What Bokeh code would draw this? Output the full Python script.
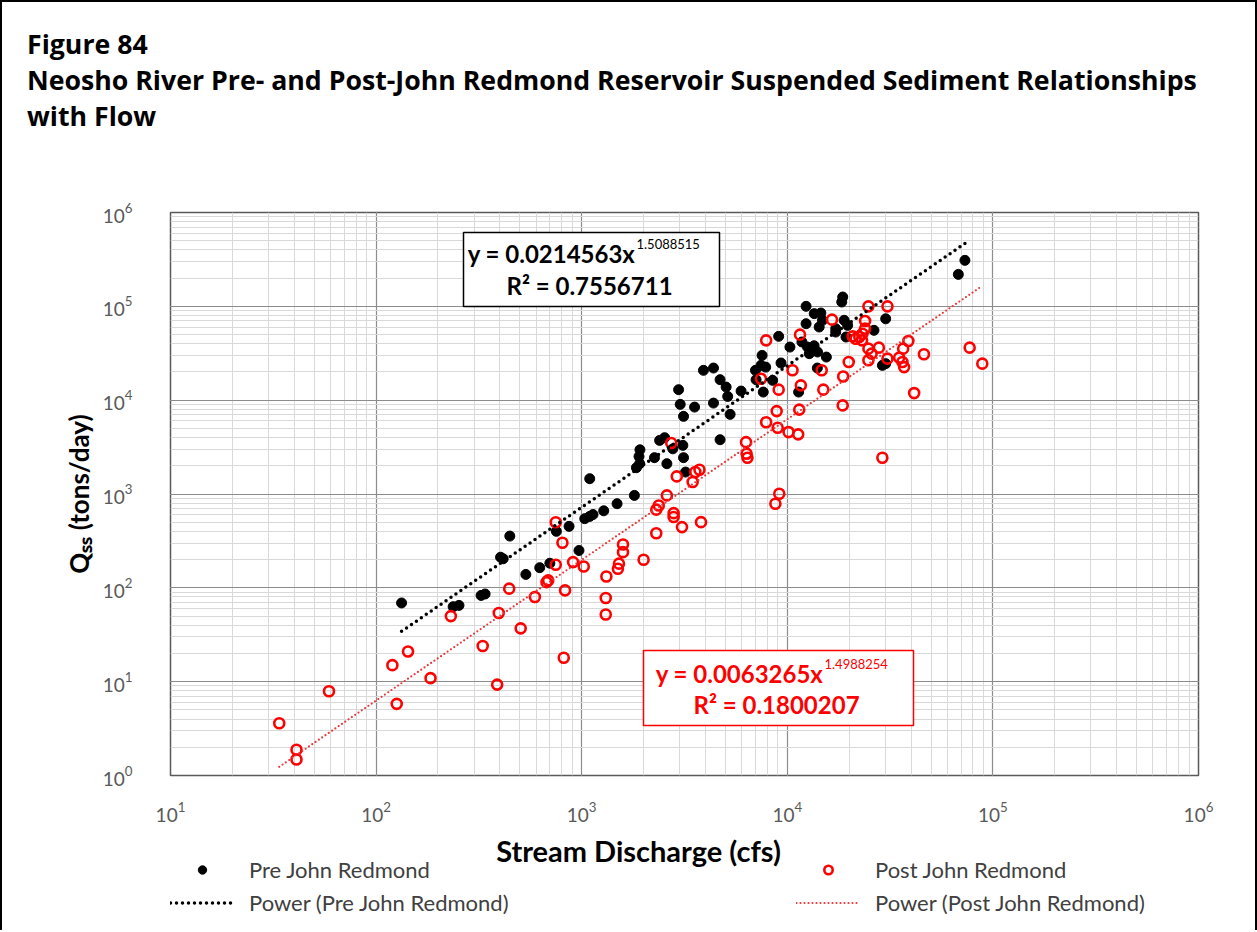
import numpy as np
from bokeh.plotting import figure
from bokeh.layouts import column
from bokeh.models import Label, BoxAnnotation, Legend, LegendItem, Div
from bokeh.embed import file_html
from bokeh.resources import INLINE

# ---------------- data ----------------
pre_q = [133, 237, 253, 324, 339, 403, 415, 447, 535, 625, 700, 753, 868, 970, 1035,
         1094, 1094, 1135, 1280, 1486, 1804, 1845, 1914, 1900, 1920, 2259, 2393, 2531,
         2596, 2774, 3104, 3128, 3200, 2960, 3014, 3128, 3540, 3910, 4375, 4375, 4710,
         4710, 5040, 5130, 5270, 5960, 7000, 7450, 7540, 7050, 7640, 7850, 8490, 9080,
         9320, 10300, 11350, 11780, 12540, 12790, 13500, 14030, 73100, 67900, 18600,
         18400, 12340, 13520, 14560, 14830, 14290, 12340, 15490, 18900, 19650, 17200,
         17200, 19300, 26400, 30100, 29000, 30100, 14000]
pre_qss = [69, 63, 65, 83, 86, 212, 204, 356, 139, 164, 183, 400, 452, 250, 546,
           1456, 577, 604, 662, 788, 966, 1906, 2104, 2512, 2960, 2438, 3727, 3980,
           2104, 3030, 3300, 2438, 1713, 12940, 9020, 6720, 8440, 20800, 22000, 9310, 3790,
           16540, 13800, 10960, 7060, 12500, 20800, 23500, 30000, 16540, 12200, 22500, 16260, 47900,
           24900, 36800, 12200, 41700, 36800, 31300, 38000, 32600, 309000, 219000, 125700,
           111200, 100000, 83600, 84900, 71000, 60200, 65300, 28800, 71000, 62700, 57800,
           53200, 47100, 55500, 73600, 23500, 24500, 22000]

post_q = [748, 806, 748, 908, 1023, 444, 674, 687, 592, 830, 231, 395, 505, 330, 818,
          388, 143, 120, 184, 126, 59, 33.8, 41, 41,
          7890, 7450, 10600, 11640, 9080, 8880, 11430, 7890, 8980, 10140, 11300, 6300,
          6340, 6400, 9140, 8750, 2725, 2900, 3465, 3740, 3570, 2596, 2371, 2305, 2800,
          2800, 3075, 3805, 2305, 1588, 1588, 2000, 1518, 1500, 1318, 1309, 1309,
          24800, 30700, 16500, 23900, 23900, 20800, 22400, 23200, 21500, 23100, 11530,
          24800, 25700, 27900, 24800, 30700, 35000, 36300, 37000, 36600, 38800, 46200,
          41400, 77100, 88800, 29000, 19900, 18700, 18600, 14700, 14970]
post_qss = [500, 302, 176, 188, 169, 98, 115, 120, 80, 94, 50, 54, 37, 24, 18,
            9.3, 21, 15, 10.9, 5.8, 7.9, 3.6, 1.88, 1.48,
            43400, 16900, 20800, 14380, 12940, 7650, 7920, 5820, 5090, 4570, 4320, 3570,
            2690, 2430, 1006, 788, 3490, 1540, 1340, 1815, 1713, 966, 755, 681, 625,
            568, 444, 501, 381, 290, 240, 199, 181, 160, 132, 78, 52,
            100000, 100000, 72100, 69700, 57800, 47900, 47100, 51100, 45200, 43400, 49900,
            35400, 31300, 36300, 26600, 27700, 28400, 25500, 22500, 35400, 42700, 30800,
            11900, 36300, 24500, 2430, 25500, 17900, 8800, 20800, 12940]

pre_coef, pre_exp, pre_r2 = 0.0214563, 1.5088515, 0.7556711
post_coef, post_exp, post_r2 = 0.0063265, 1.4988254, 0.1800207

series_names = ["Pre John Redmond", "Post John Redmond"]
title_lines = ["Figure 84",
               "Neosho River Pre- and Post-John Redmond Reservoir Suspended Sediment Relationships",
               "with Flow"]
x_title = "Stream Discharge (cfs)"
y_title = "Q\u209b\u209b (tons/day)"

# ---------------- page layout (page pixels) ----------------
BORDER = 2
W = 1253
TOP_H, MAIN_H, BOT_H = 150, 680, 98             # title block, plot canvas, legend canvas
FX0, FX1, FY0, FY1 = 170, 1198, 212, 775        # plot frame edges on the page
MAIN_TOP = BORDER + TOP_H
BOT_TOP = MAIN_TOP + MAIN_H

# ---------------- title block ----------------
title_html = "<br>".join(title_lines)
top = Div(text=title_html, width=W, height=TOP_H, margin=0,
          styles={"font-family": "'Open Sans', sans-serif", "font-weight": "bold",
                  "font-size": "26.7px", "line-height": "36px", "color": "black",
                  "padding-left": f"{27 - BORDER}px", "padding-top": "24px",
                  "white-space": "nowrap", "box-sizing": "border-box"})

# ---------------- main plot ----------------
p = figure(width=W, height=MAIN_H, x_axis_type="log", y_axis_type="log",
           x_range=(10, 1e6), y_range=(1, 1e6),
           output_backend="svg", toolbar_location=None,
           min_border_left=FX0 - BORDER, min_border_right=W + BORDER - FX1,
           min_border_top=FY0 - MAIN_TOP, min_border_bottom=BOT_TOP - FY1)
p.background_fill_color = "white"
p.border_fill_color = "white"
p.outline_line_color = "#595959"
p.outline_line_width = 1.5

def dx(px):
    return 10 ** (1 + 5 * (px - FX0) / (FX1 - FX0))
def dy(py):
    return 10 ** (6 * (FY1 - py) / (FY1 - FY0))

for g in (p.xgrid, p.ygrid):
    g.grid_line_color = "#8c8c8c"
    g.grid_line_width = 1.2
    g.minor_grid_line_color = "#d9d9d9"
    g.minor_grid_line_width = 1

for ax in (p.xaxis, p.yaxis):
    ax.axis_line_color = None
    ax.major_tick_line_color = None
    ax.minor_tick_line_color = None
    ax.major_label_text_font = "Lato"
    ax.major_label_text_font_size = "19px"
    ax.major_label_text_color = "#595959"
p.xaxis.major_label_standoff = 20
p.yaxis.major_label_standoff = 32
p.yaxis.axis_label = y_title
p.yaxis.axis_label_text_font = "Lato"
p.yaxis.axis_label_text_font_style = "bold"
p.yaxis.axis_label_text_font_size = "26px"
p.yaxis.axis_label_text_color = "black"
p.yaxis.axis_label_standoff = 5

r_pre = p.scatter(pre_q, pre_qss, size=10, marker="circle", fill_color="black", line_color="black")
r_post = p.scatter(post_q, post_qss, size=10, marker="circle", fill_color=None,
                   line_color="#ff0000", line_width=2.6)

pre_line = dict(line_color="black", line_width=3.5, line_dash="0 6", line_cap="round")
post_line = dict(line_color="#e8383b", line_width=2.2, line_dash="0 4", line_cap="round")
xf_pre = np.geomspace(min(pre_q), max(pre_q), 40)
xf_post = np.geomspace(min(post_q), max(post_q), 40)
p.line(xf_pre, pre_coef * xf_pre ** pre_exp, **pre_line)
p.line(xf_post, post_coef * xf_post ** post_exp, **post_line)

# equation boxes
p.add_layout(BoxAnnotation(left=dx(463), right=dx(719), top=dy(232), bottom=dy(306),
                           fill_color="white", fill_alpha=1, line_color="black", line_width=1.5, line_alpha=1))
p.add_layout(BoxAnnotation(left=dx(643), right=dx(913), top=dy(650), bottom=dy(725),
                           fill_color="white", fill_alpha=1, line_color="#ff0000", line_width=1.5, line_alpha=1))

def eq_labels(x_end, y1, y2, xc2, coef, expo, r2, color):
    common = dict(text_font="Lato", text_font_style="bold", text_color=color, text_baseline="middle")
    p.add_layout(Label(x=dx(x_end), y=dy(y1), text=f"y = {coef:.7f}x", text_align="right",
                       text_font_size="24px", **common))
    p.add_layout(Label(x=dx(x_end + 1), y=dy(y1 - 10), text=f"{expo:.7f}", text_align="left",
                       text_font_size="13px", text_font="Lato", text_color=color, text_baseline="middle"))
    p.add_layout(Label(x=dx(xc2), y=dy(y2), text=f"R\u00b2 = {r2:.7f}", text_align="center",
                       text_font_size="24px", **common))

eq_labels(635, 253, 285, 589, pre_coef, pre_exp, pre_r2, "#000000")
eq_labels(823, 673, 704, 776, post_coef, post_exp, post_r2, "#ff0000")

# ---------------- bottom canvas: x title + legend ----------------
# its frame is aligned with the plot frame (page x 170..1198), so x data = page pixels
bot = figure(width=W, height=BOT_H, x_range=(FX0, FX1), y_range=(0, BOT_H),
             x_axis_type=None, y_axis_type=None, output_backend="svg", toolbar_location=None,
             min_border_left=FX0 - BORDER, min_border_right=W + BORDER - FX1,
             min_border_top=0, min_border_bottom=0)
bot.outline_line_color = None
bot.background_fill_color = "white"
bot.border_fill_color = "white"
bot.add_layout(Label(x=638, y=BOT_H - (850 - BOT_TOP), text=x_title, text_font="Lato",
                     text_font_style="bold", text_font_size="29px", text_color="black",
                     text_baseline="middle", text_align="center"))
# legend key renderers (single off-canvas anchor point, only used for the legend swatches)
anchor = [-1e6]
k_pre = bot.scatter(anchor, anchor, size=10, marker="circle", fill_color="black", line_color="black")
k_post = bot.scatter(anchor, anchor, size=10, marker="circle", fill_color=None, line_color="#ff0000",
                     line_width=2.6)
k_pl = bot.line(anchor, anchor, **pre_line)
k_ql = bot.line(anchor, anchor, **post_line)
legend = Legend(items=[LegendItem(label=series_names[0], renderers=[k_pre]),
                       LegendItem(label="Power (" + series_names[0] + ")", renderers=[k_pl]),
                       LegendItem(label=series_names[1], renderers=[k_post]),
                       LegendItem(label="Power (" + series_names[1] + ")", renderers=[k_ql])],
                ncols=2, location=(0, BOT_H - (915.5 - BOT_TOP)),
                glyph_width=64, glyph_height=21, label_height=21, label_width=541,
                label_standoff=15, spacing=6, padding=0, margin=0,
                label_text_font="Lato", label_text_font_size="22px", label_text_color="#404040",
                border_line_color=None, background_fill_alpha=0)
bot.add_layout(legend)

page = column(top, p, bot, spacing=0)
page.styles = {"border-top": f"{BORDER}px solid black", "border-left": f"{BORDER}px solid black",
               "border-right": f"{BORDER}px solid black"}

open("out.html", "w").write(file_html(page, INLINE))
